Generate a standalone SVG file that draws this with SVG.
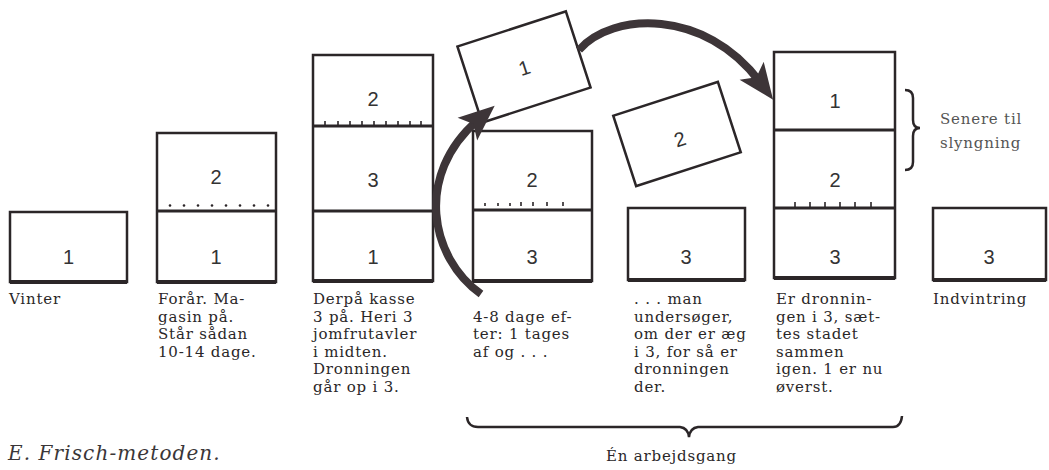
<svg xmlns="http://www.w3.org/2000/svg" width="1049" height="470" viewBox="0 0 1049 470">
<style>
.box{fill:#fff;stroke:#2b2628;stroke-width:2.5}
.base{stroke:#2b2628;stroke-width:4;fill:none}
.div{stroke:#2b2628;stroke-width:3;fill:none}
.tick{stroke:#2b2628;stroke-width:1.6;fill:none}
.dot{fill:#2b2628}
.num{font-family:"Liberation Sans",Arial,sans-serif;font-size:20px;fill:#333;text-anchor:middle}
.txt{font-family:"DejaVu Serif","Liberation Serif",serif;font-size:15px;letter-spacing:0.8px;fill:#2a2728}
.gray{fill:#555}
.cap{font-family:"DejaVu Serif","Liberation Serif",serif;font-style:italic;font-size:20px;letter-spacing:1.1px;fill:#3a3638}
.arrow{fill:none;stroke:#3d3538;stroke-width:8}
.brace{fill:none;stroke:#2b2628;stroke-width:2.5}
</style>
<defs>
<marker id="head" markerUnits="userSpaceOnUse" viewBox="-20 -20 50 40" refX="0" refY="0" markerWidth="50" markerHeight="40" orient="auto" overflow="visible">
<path d="M22 0 L-14 -15 L-6 0 L-14 15 Z" fill="#3d3538"/>
</marker>
</defs>
<rect width="1049" height="470" fill="#fff"/>

<g id="vinter">
<rect class="box" x="10" y="212" width="117" height="70"/>
<line class="base" x1="10" y1="282" x2="127" y2="282"/>
<text class="num" x="68.5" y="264">1</text>
<text class="txt" x="9" y="304">Vinter</text>
</g>

<g id="foraar">
<rect class="box" x="157" y="133" width="119" height="149"/>
<line class="div" x1="157" y1="211" x2="276" y2="211"/>
<line class="base" x1="157" y1="282" x2="276" y2="282"/>
<g class="dot"><circle cx="170" cy="205.5" r="1.3"/><circle cx="184" cy="205.5" r="1.3"/><circle cx="198" cy="205.5" r="1.3"/><circle cx="212" cy="205.5" r="1.3"/><circle cx="226" cy="205.5" r="1.3"/><circle cx="240" cy="205.5" r="1.3"/><circle cx="254" cy="205.5" r="1.3"/><circle cx="268" cy="205.5" r="1.3"/></g>
<text class="num" x="216" y="184">2</text>
<text class="num" x="216" y="264">1</text>
<text class="txt" x="158" y="304">Forår. Ma-</text>
<text class="txt" x="158" y="321.6">gasin på.</text>
<text class="txt" x="158" y="339.2">Står sådan</text>
<text class="txt" x="158" y="356.8">10-14 dage.</text>
</g>

<g id="derpaa">
<rect class="box" x="313" y="55" width="120" height="226"/>
<line class="div" x1="313" y1="126" x2="433" y2="126"/>
<line class="div" x1="313" y1="211" x2="433" y2="211"/>
<line class="base" x1="313" y1="281" x2="433" y2="281"/>
<path class="tick" d="M325 121V126M338 121V126M350 121V126M362 121V126M374 121V126M386 121V126M398 121V126M410 121V126M421 121V126"/>
<text class="num" x="373" y="106">2</text>
<text class="num" x="373" y="187">3</text>
<text class="num" x="373" y="264">1</text>
<text class="txt" x="313" y="304">Derpå kasse</text>
<text class="txt" x="313" y="321.6">3 på. Heri 3</text>
<text class="txt" x="313" y="339.2">jomfrutavler</text>
<text class="txt" x="313" y="356.8">i midten.</text>
<text class="txt" x="313" y="374.4">Dronningen</text>
<text class="txt" x="313" y="392">går op i 3.</text>
</g>

<g id="fireotte">
<rect class="box" x="473" y="131" width="119" height="150"/>
<line class="div" x1="473" y1="210" x2="592" y2="210"/>
<line class="base" x1="473" y1="281" x2="592" y2="281"/>
<path class="tick" d="M485 203V206M498 203V206M510 203V206M521 202V206M533 202V206M547 202V206M563 202V206"/>
<text class="num" x="532" y="187">2</text>
<text class="num" x="532" y="264">3</text>
<text class="txt" x="473" y="321.6">4-8 dage ef-</text>
<text class="txt" x="473" y="339.2">ter: 1 tages</text>
<text class="txt" x="473" y="356.8">af og . . .</text>
</g>

<g id="loeftet1">
<rect class="box" x="467" y="27" width="114" height="80" transform="rotate(-18 524 67)"/>
<text class="num" x="524" y="75" transform="rotate(-18 524 67)">1</text>
</g>

<g id="loeftet2">
<rect class="box" x="622" y="97" width="110" height="74" transform="rotate(-18 677 134)"/>
<text class="num" x="680" y="146" transform="rotate(-18 680 139)">2</text>
</g>

<g id="man">
<rect class="box" x="628" y="208" width="117" height="72"/>
<line class="base" x1="628" y1="280" x2="745" y2="280"/>
<text class="num" x="686" y="264">3</text>
<text class="txt" x="634" y="304">. . . man</text>
<text class="txt" x="634" y="321.6">undersøger,</text>
<text class="txt" x="634" y="339.2">om der er æg</text>
<text class="txt" x="634" y="356.8">i 3, for så er</text>
<text class="txt" x="634" y="374.4">dronningen</text>
<text class="txt" x="634" y="392">der.</text>
</g>

<g id="sammen">
<rect class="box" x="774" y="52" width="121" height="226"/>
<line class="div" x1="774" y1="130" x2="895" y2="130"/>
<line class="div" x1="774" y1="208" x2="895" y2="208"/>
<line class="base" x1="774" y1="278" x2="895" y2="278"/>
<path class="tick" d="M795 202V208M810 202V208M825 202V208M840 202V208M855 202V208M871 202V208"/>
<text class="num" x="835" y="108">1</text>
<text class="num" x="835" y="187">2</text>
<text class="num" x="835" y="264">3</text>
<text class="txt" x="776" y="304">Er dronnin-</text>
<text class="txt" x="776" y="321.6">gen i 3, sæt-</text>
<text class="txt" x="776" y="339.2">tes stadet</text>
<text class="txt" x="776" y="356.8">sammen</text>
<text class="txt" x="776" y="374.4">igen. 1 er nu</text>
<text class="txt" x="776" y="392">øverst.</text>
</g>

<g id="indvintring">
<rect class="box" x="933" y="208" width="113" height="72"/>
<line class="base" x1="933" y1="280" x2="1046" y2="280"/>
<text class="num" x="989" y="264">3</text>
<text class="txt" x="933" y="304">Indvintring</text>
</g>

<g id="slyngning">
<path class="brace" d="M905 90 Q913 90 913 98 L913 120 Q913 128 920 128 Q913 128 913 136 L913 162 Q913 170 905 170"/>
<text class="txt gray" x="940" y="124">Senere til</text>
<text class="txt gray" x="940" y="148">slyngning</text>
</g>

<g id="arbejdsgang">
<path class="brace" d="M467 417 Q468 427 478 427 L680 427 Q688 428 689 437 Q690 428 698 427 L893 427 Q901 427 902 416"/>
<text class="txt" x="606" y="461">Én arbejdsgang</text>
</g>

<g id="connectors">
<path class="arrow" d="M481 294 C430 258 414 175 478 120" marker-end="url(#head)"/>
<path class="arrow" d="M579 50 C612 12 705 8 760 82" marker-end="url(#head)"/>
</g>

<text class="cap" x="8" y="460">E. Frisch-metoden.</text>
</svg>
